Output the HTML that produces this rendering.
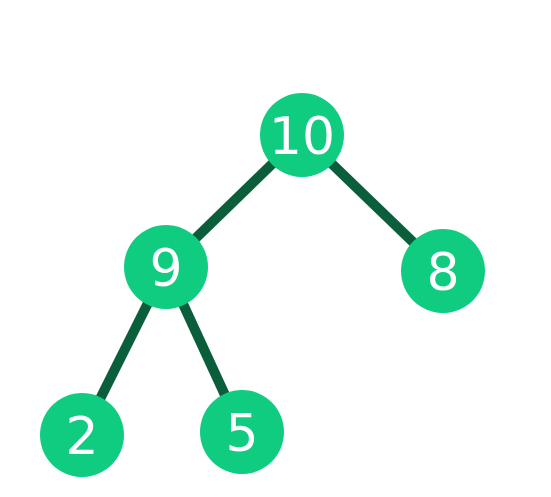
<!DOCTYPE html>
<html><head><meta charset="utf-8"><style>
html,body{margin:0;padding:0;background:#fff;width:551px;height:497px;overflow:hidden}
</style></head><body>
<svg id="tree" width="551" height="497" xmlns="http://www.w3.org/2000/svg"></svg>
<script>
const nodeValues = [10, 9, 8, 2, 5];
const nodeX = [302, 166, 443, 82, 242];
const nodeY = [135, 267, 271, 435, 432];
const edgeFrom = [0, 0, 1, 1];
const edgeTo = [1, 2, 3, 4];
const svg = document.getElementById('tree');
const NS = 'http://www.w3.org/2000/svg';
for (let i = 0; i < edgeFrom.length; i++) {
  const l = document.createElementNS(NS, 'line');
  l.setAttribute('x1', nodeX[edgeFrom[i]]); l.setAttribute('y1', nodeY[edgeFrom[i]]);
  l.setAttribute('x2', nodeX[edgeTo[i]]); l.setAttribute('y2', nodeY[edgeTo[i]]);
  l.setAttribute('stroke', '#0a5e3c'); l.setAttribute('stroke-width', '10');
  
  
  svg.appendChild(l);
}
for (let i = 0; i < nodeValues.length; i++) {
  const g = document.createElementNS(NS, 'g');
  
  
  const c = document.createElementNS(NS, 'circle');
  c.setAttribute('cx', nodeX[i]); c.setAttribute('cy', nodeY[i]); c.setAttribute('r', 42);
  c.setAttribute('fill', '#10cc80');
  
  
  const t = document.createElementNS(NS, 'text');
  t.setAttribute('x', nodeX[i]); t.setAttribute('y', nodeY[i] + 19);
  t.setAttribute('text-anchor', 'middle'); t.setAttribute('fill', '#fff');
  t.setAttribute('font-family', 'DejaVu Sans, sans-serif'); t.setAttribute('font-size', '52');
  
  
  t.textContent = nodeValues[i];
  g.appendChild(c); g.appendChild(t); svg.appendChild(g);
}
</script>
</body></html>
